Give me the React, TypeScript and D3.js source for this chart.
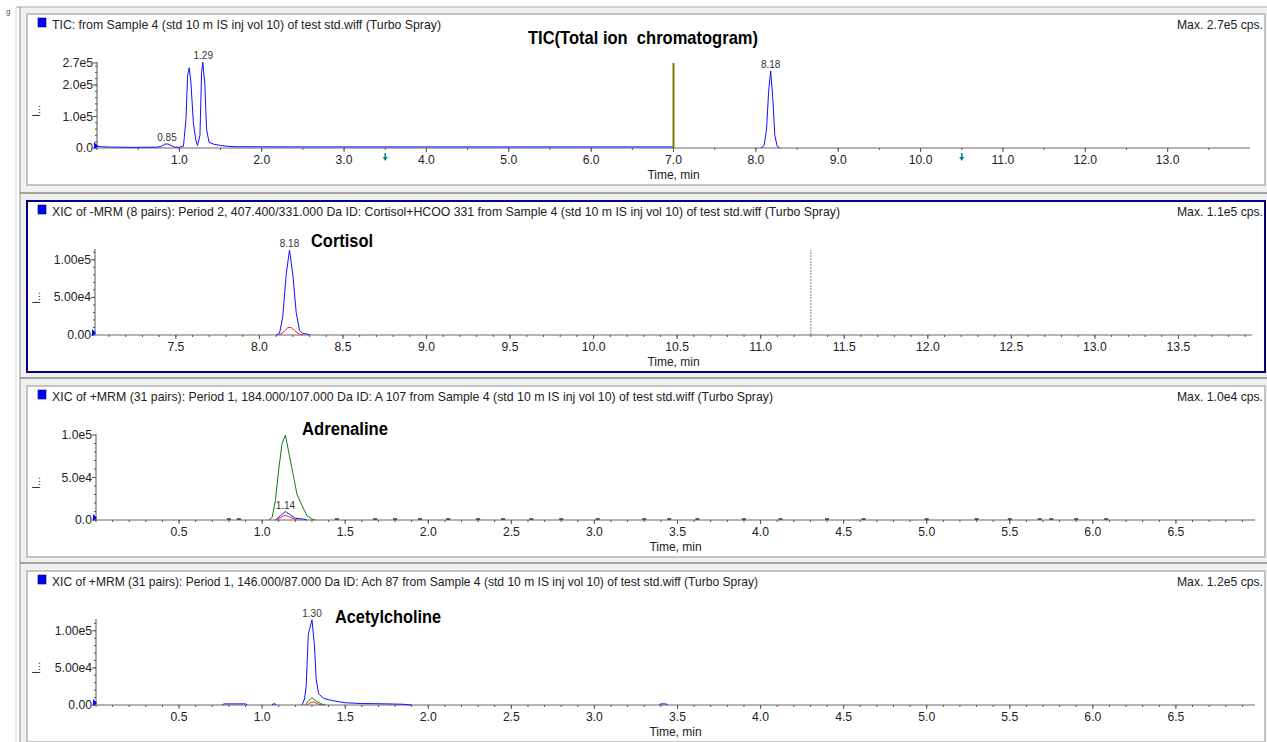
import React from "react";
import * as d3 from "d3";

type Pt = [number, number];

// ---------- DATA (time in min, intensity in cps) ----------
// Panel 1: TIC
const ticSegA: Pt[] = [
  [0.0, 6e3], [0.05, 4e3], [0.15, 3e3], [0.3, 2.5e3], [0.45, 2e3], [0.6, 2.5e3], [0.72, 2.5e3],
  [0.78, 5e3], [0.82, 1.2e4], [0.86, 1.3e4], [0.9, 8e3], [0.94, 3e3], [1.0, 2.5e3], [1.05, 6e3],
  [1.08, 9e4], [1.1, 2.3e5], [1.12, 2.55e5], [1.14, 2.1e5], [1.17, 8e4], [1.2, 2.5e4], [1.22, 8e3],
  [1.25, 4e4], [1.27, 2.4e5], [1.285, 2.72e5], [1.31, 2.0e5], [1.33, 6e4], [1.36, 1.8e4],
  [1.42, 1.2e4], [1.5, 8e3], [1.6, 5e3], [1.7, 4e3], [2.5, 3.5e3], [4.0, 3.5e3], [5.5, 3.5e3], [6.99, 3.5e3],
];
const ticSegB: Pt[] = [
  [8.06, 0], [8.1, 8e3], [8.13, 6e4], [8.155, 1.8e5], [8.18, 2.45e5], [8.205, 1.6e5], [8.23, 4e4], [8.26, 5e3], [8.29, 0],
];
// Panel 2: Cortisol
const cortisolBlue: Pt[] = [
  [8.1, 0], [8.12, 2e3], [8.14, 2.5e4], [8.16, 8e4], [8.18, 1.13e5], [8.2, 8e4], [8.22, 3e4],
  [8.24, 6e3], [8.26, 2e3], [8.29, 1e3], [8.3, 0],
];
const cortisolRed: Pt[] = [
  [8.12, 0], [8.15, 5e3], [8.17, 1e4], [8.19, 1e4], [8.21, 6e3], [8.24, 1e3], [8.26, 0],
];
// Panel 3: Adrenaline
const adrenalineGreen: Pt[] = [
  [1.04, 0], [1.06, 3e3], [1.08, 2.3e4], [1.1, 6e4], [1.12, 9e4], [1.14, 1.0e5], [1.16, 8e4],
  [1.19, 5e4], [1.21, 3e4], [1.24, 1.7e4], [1.27, 5e3], [1.3, 1e3], [1.32, 0],
];
const adrenalineBlue: Pt[] = [
  [1.08, 0], [1.11, 5e3], [1.14, 1.0e4], [1.17, 6e3], [1.2, 2e3], [1.25, 1e3], [1.27, 0],
];
const adrenalineRed: Pt[] = [
  [1.09, 0], [1.12, 4e3], [1.14, 5.5e3], [1.17, 3e3], [1.21, 0],
];
const adrenalineNoise: number[] = [
  0.8, 0.86, 1.45, 1.68, 1.8, 1.95, 2.12, 2.3, 2.45, 2.62, 2.8, 3.02, 3.3, 3.45, 3.62, 3.9,
  4.12, 4.4, 4.62, 5.0, 5.3, 5.5, 5.68, 5.75, 5.9, 6.08,
];
// Panel 4: Acetylcholine
const achBlue: Pt[][] = [
  [[0.76, 0], [0.77, 1.5e3], [0.9, 1.5e3], [0.91, 0]],
  [[1.06, 0], [1.065, 1.5e3], [1.08, 1.5e3], [1.085, 0]],
  [[1.24, 0], [1.255, 8e3], [1.265, 2.5e4], [1.278, 9.5e4], [1.3, 1.147e5], [1.315, 8e4], [1.325, 3.5e4],
   [1.34, 1.5e4], [1.37, 9e3], [1.42, 6e3], [1.5, 3e3], [1.6, 2e3], [1.75, 1.5e3], [1.85, 1e3], [1.9, 0]],
  [[3.39, 0], [3.4, 1.5e3], [3.43, 1.5e3], [3.44, 0]],
];
const achGreen: Pt[] = [[1.26, 0], [1.28, 6e3], [1.3, 1e4], [1.32, 6e3], [1.35, 2e3], [1.38, 0]];
const achRed: Pt[] = [[1.27, 0], [1.29, 3e3], [1.31, 4e3], [1.34, 1e3], [1.36, 0]];

// Text / ticks
const panelTitles = [
  "TIC: from Sample 4 (std 10 m IS inj vol 10) of test std.wiff (Turbo Spray)",
  "XIC of -MRM (8 pairs): Period 2, 407.400/331.000 Da ID: Cortisol+HCOO 331 from Sample 4 (std 10 m IS inj vol 10) of test std.wiff (Turbo Spray)",
  "XIC of +MRM (31 pairs): Period 1, 184.000/107.000 Da ID: A 107 from Sample 4 (std 10 m IS inj vol 10) of test std.wiff (Turbo Spray)",
  "XIC of +MRM (31 pairs): Period 1, 146.000/87.000 Da ID: Ach 87 from Sample 4 (std 10 m IS inj vol 10) of test std.wiff (Turbo Spray)",
];
const panelMax = ["Max. 2.7e5 cps.", "Max. 1.1e5 cps.", "Max. 1.0e4 cps.", "Max. 1.2e5 cps."];
const compoundNames = ["TIC(Total ion  chromatogram)", "Cortisol", "Adrenaline", "Acetylcholine"];
const xDomains: [number, number][] = [[0, 14], [7.016, 13.94], [0, 6.976], [0, 6.976]];
const xTickValues = [
  [1, 2, 3, 4, 5, 6, 7, 8, 9, 10, 11, 12, 13],
  [7.5, 8, 8.5, 9, 9.5, 10, 10.5, 11, 11.5, 12, 12.5, 13, 13.5],
  [0.5, 1, 1.5, 2, 2.5, 3, 3.5, 4, 4.5, 5, 5.5, 6, 6.5],
  [0.5, 1, 1.5, 2, 2.5, 3, 3.5, 4, 4.5, 5, 5.5, 6, 6.5],
];
const xMinorStep = [0.5, 0.1, 0.1, 0.1];
const yMaxes = [2.7e5, 1.13e5, 1.0e5, 1.145e5];
const yTickValues = [[0, 1e5, 2e5, 2.7e5], [0, 5e4, 1e5], [0, 5e4, 1e5], [0, 5e4, 1e5]];
const yTickLabels = [
  ["0.0", "1.0e5", "2.0e5", "2.7e5"],
  ["0.00", "5.00e4", "1.00e5"],
  ["0.0", "5.0e4", "1.0e5"],
  ["0.00", "5.00e4", "1.00e5"],
];
const yMinorStep = [2e4, 1e4, 1e4, 1e4];
const periodBoundary = 7.0;
const cortisolMarker = 11.3;
const ticArrows = [3.5, 10.5];

// ---------- LAYOUT ----------
const W = 1267, H = 742;
const FONT = "'Liberation Sans', Arial, sans-serif";
const NARROW = "'Liberation Sans Narrow', 'Arial Narrow', 'Liberation Sans', sans-serif";
const panelTops = [14, 201, 386, 571];
const xRanges: [number, number][] = [[97, 1250], [95, 1252], [96, 1255], [96, 1255]];
const nameLayout = [
  { x: 528, y: 44, w: 230 },
  { x: 311, y: 247, w: 62 },
  { x: 302, y: 435, w: 86 },
  { x: 335, y: 623, w: 106 },
];
const titleWidths = [389, 788, 721, 706];
const BLUE = "#1010ff", RED = "#ff2020", GREEN = "#108010";

type Trace = { segs: Pt[][]; color: string };
type PeakLabel = { t: number; text: string; trace: number };

const panelTraces: Trace[][] = [
  [{ segs: [ticSegA, ticSegB], color: BLUE }],
  [{ segs: [cortisolBlue], color: BLUE }, { segs: [cortisolRed], color: RED }],
  [{ segs: [adrenalineGreen], color: GREEN }, { segs: [adrenalineBlue], color: BLUE }, { segs: [adrenalineRed], color: RED }],
  [{ segs: achBlue, color: BLUE }, { segs: [achGreen], color: GREEN }, { segs: [achRed], color: RED }],
];
const panelPeaks: PeakLabel[][] = [
  [{ t: 0.85, text: "0.85", trace: 0 }, { t: 1.29, text: "1.29", trace: 0 }, { t: 8.18, text: "8.18", trace: 0 }],
  [{ t: 8.18, text: "8.18", trace: 0 }],
  [{ t: 1.14, text: "1.14", trace: 1 }],
  [{ t: 1.3, text: "1.30", trace: 0 }],
];

function Panel({ i }: { i: number }) {
  const top = panelTops[i];
  const axisY = top + 134;
  const x = d3.scaleLinear().domain(xDomains[i]).range(xRanges[i]);
  const y = d3.scaleLinear().domain([0, yMaxes[i]]).range([axisY, axisY - 85]);
  const line = d3.line<Pt>().x((d) => x(d[0])).y((d) => y(d[1]));
  const [x0, x1] = xRanges[i];
  const [d0, d1] = xDomains[i];
  const minors = d3.range(Math.ceil(d0 / xMinorStep[i]) * xMinorStep[i], d1, xMinorStep[i]);
  const yMinors = d3.range(0, yMaxes[i], yMinorStep[i]);
  const traces = panelTraces[i];
  const selected = i === 1;

  return (
    <g>
      <rect x={27} y={top} width={1238} height={171} fill="#fff"
        stroke={selected ? "#000080" : "#c4c4c4"} strokeWidth={2} />
      {/* header */}
      <rect x={38} y={axisY - 130} width={8} height={9} fill="#0000ff" stroke="#000060" strokeWidth={0.6} />
      <text x={52} y={axisY - 119} fontFamily={FONT} fontSize={12.2} fill="#222"
        textLength={titleWidths[i]} lengthAdjust="spacingAndGlyphs">{panelTitles[i]}</text>
      <text x={1263} y={axisY - 119} fontFamily={FONT} fontSize={12.2} fill="#222" textAnchor="end">{panelMax[i]}</text>
      <text x={nameLayout[i].x} y={nameLayout[i].y} fontFamily={NARROW} fontWeight="bold" fontSize={19}
        textLength={nameLayout[i].w} lengthAdjust="spacingAndGlyphs" fill="#000"
        style={{ whiteSpace: "pre" }}>{compoundNames[i]}</text>
      {/* y title */}
      <text transform={`translate(40,${axisY - 31}) rotate(-90)`} fontFamily={FONT} fontSize={11} fill="#333">I...</text>
      {/* y axis */}
      <line x1={x0} x2={x0} y1={axisY} y2={axisY - 86} stroke="#555" />
      {yMinors.map((v, k) => (
        <line key={"ym" + k} x1={x0 - 2} x2={x0} y1={y(v)} y2={y(v)} stroke="#555" />
      ))}
      {yTickValues[i].map((v, k) => (
        <g key={"yt" + k}>
          <line x1={x0 - 4} x2={x0} y1={y(v)} y2={y(v)} stroke="#555" />
          <text x={x0 - 4} y={y(v) + 4} textAnchor="end" fontFamily={FONT} fontSize={12.2} fill="#222">{yTickLabels[i][k]}</text>
        </g>
      ))}
      {/* x axis */}
      <line x1={x0} x2={x1} y1={axisY} y2={axisY} stroke="#666" />
      {minors.map((v, k) => (
        <line key={"xm" + k} x1={x(v)} x2={x(v)} y1={axisY} y2={axisY + 2} stroke="#555" />
      ))}
      {xTickValues[i].map((v, k) => (
        <g key={"xt" + k}>
          <line x1={x(v)} x2={x(v)} y1={axisY} y2={axisY + 4} stroke="#555" />
          <text x={x(v)} y={axisY + 16} textAnchor="middle" fontFamily={FONT} fontSize={12.2} fill="#222">{v.toFixed(1)}</text>
        </g>
      ))}
      <text x={(x0 + x1) / 2} y={axisY + 31} textAnchor="middle" fontFamily={FONT} fontSize={12} fill="#222">Time, min</text>
      {/* special markers */}
      {i === 0 && (
        <line x1={x(periodBoundary)} x2={x(periodBoundary)} y1={axisY} y2={y(yMaxes[0])} stroke="#7a7a00" strokeWidth={2} />
      )}
      {i === 0 && ticArrows.map((t, k) => (
        <g key={"ar" + k} stroke="#008080" fill="#008080">
          <line x1={x(t)} x2={x(t)} y1={axisY + 5} y2={axisY + 10} strokeWidth={1.5} />
          <path d={`M${x(t) - 2.5},${axisY + 9} L${x(t) + 2.5},${axisY + 9} L${x(t)},${axisY + 13} Z`} stroke="none" />
        </g>
      ))}
      {i === 1 && (
        <line x1={x(cortisolMarker)} x2={x(cortisolMarker)} y1={axisY} y2={axisY - 85} stroke="#666" strokeDasharray="2,1" strokeWidth={0.8} />
      )}
      {i === 2 && adrenalineNoise.map((t, k) => (
        <line key={"nz" + k} x1={x(t) - 2} x2={x(t) + 2} y1={axisY - 1} y2={axisY - 1} stroke="#0a4a0a" strokeWidth={1.5} />
      ))}
      {/* traces */}
      {traces.map((tr, k) => tr.segs.map((s, j) => (
        <path key={"tr" + k + "-" + j} d={line(s) || ""} fill="none" stroke={tr.color} strokeWidth={1} />
      )))}
      {/* origin marker */}
      <path d={`M${x0 - 3},${axisY - 6} L${x0 + 1},${axisY - 2} L${x0 - 3},${axisY + 1} Z`} fill="#0000ff" />
      {/* peak labels */}
      {panelPeaks[i].map((p, k) => {
        const pts = traces[p.trace].segs.flat().filter((d) => Math.abs(d[0] - p.t) < 0.03);
        const v = d3.max(pts, (d) => d[1]) || 0;
        return (
          <text key={"pk" + k} x={x(p.t)} y={y(v) - 3} textAnchor="middle" fontFamily={FONT} fontSize={10} fill="#333">{p.text}</text>
        );
      })}
    </g>
  );
}

export default function App() {
  return (
    <svg width={W} height={H} style={{ position: "absolute", left: 0, top: 0, display: "block" }}>
      <rect x={0} y={0} width={W} height={H} fill="#fff" />
      <rect x={20} y={7} width={W - 20} height={H - 7} fill="#f0f0f0" />
      <line x1={16} x2={W} y1={7} y2={7} stroke="#a8a8a8" />
      <line x1={16} x2={16} y1={7} y2={H} stroke="#d4d4d4" />
      <line x1={20} x2={20} y1={7} y2={H} stroke="#8a8a8a" />
      <text x={6} y={14} fontFamily={FONT} fontSize={8} fill="#555">g</text>
      {[193, 378, 563].map((yy) => (
        <line key={yy} x1={20} x2={W} y1={yy} y2={yy} stroke="#8a8a8a" strokeWidth={1.5} />
      ))}
      {[0, 1, 2, 3].map((i) => <Panel key={i} i={i} />)}
    </svg>
  );
}
